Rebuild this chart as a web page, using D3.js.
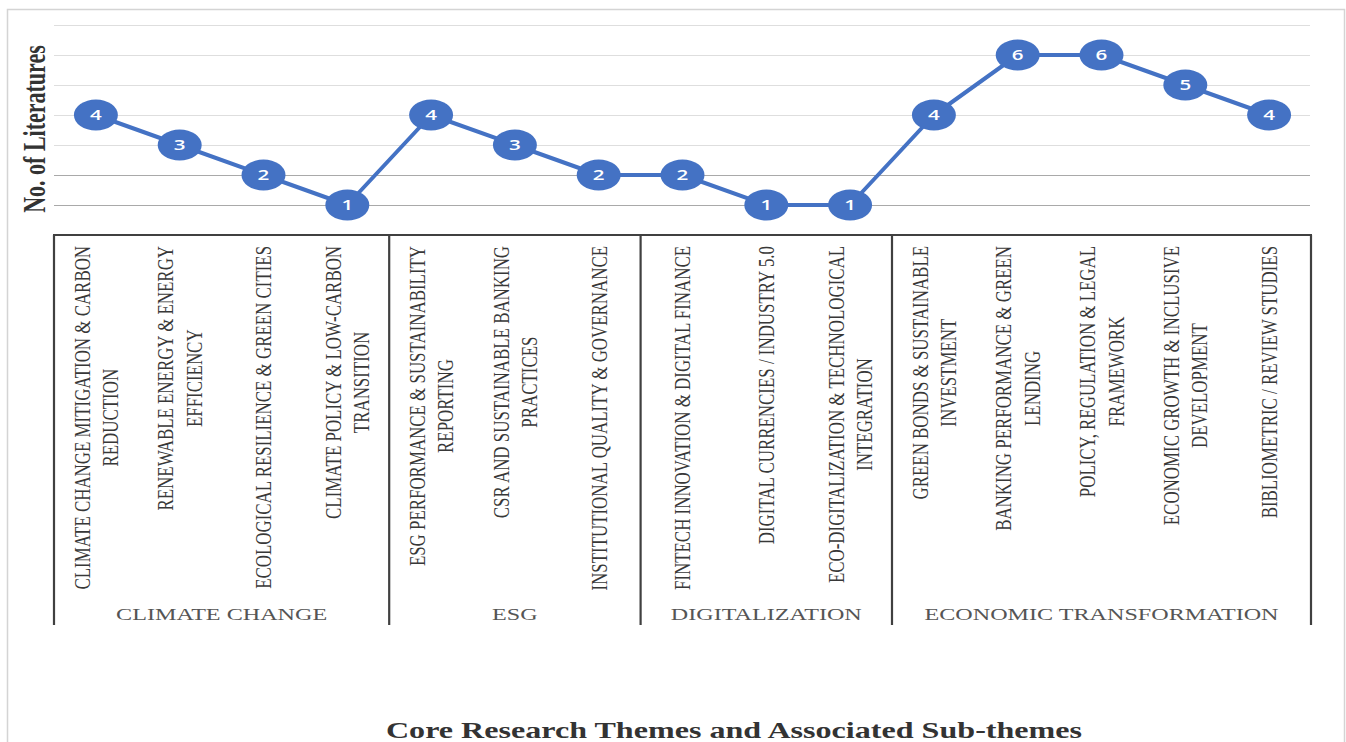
<!DOCTYPE html>
<html>
<head>
<meta charset="utf-8">
<script src="https://cdn.jsdelivr.net/npm/d3@7"></script>
<style>
  html, body { margin: 0; padding: 0; background: #ffffff; }
  svg { display: block; }
</style>
</head>
<body>
<svg id="chart" width="1346" height="742"></svg>
<script>
// Sub-themes (line breaks mark where each label wraps)
const subThemes = [
  "CLIMATE CHANGE MITIGATION & CARBON\nREDUCTION",
  "RENEWABLE ENERGY & ENERGY\nEFFICIENCY",
  "ECOLOGICAL RESILIENCE & GREEN CITIES",
  "CLIMATE POLICY & LOW-CARBON\nTRANSITION",
  "ESG PERFORMANCE & SUSTAINABILITY\nREPORTING",
  "CSR AND SUSTAINABLE BANKING\nPRACTICES",
  "INSTITUTIONAL QUALITY & GOVERNANCE",
  "FINTECH INNOVATION & DIGITAL FINANCE",
  "DIGITAL CURRENCIES / INDUSTRY 5.0",
  "ECO-DIGITALIZATION & TECHNOLOGICAL\nINTEGRATION",
  "GREEN BONDS & SUSTAINABLE\nINVESTMENT",
  "BANKING PERFORMANCE & GREEN\nLENDING",
  "POLICY, REGULATION & LEGAL\nFRAMEWORK",
  "ECONOMIC GROWTH & INCLUSIVE\nDEVELOPMENT",
  "BIBLIOMETRIC / REVIEW STUDIES"
];

// Number of literatures per sub-theme
const literatureCounts = [4, 3, 2, 1, 4, 3, 2, 2, 1, 1, 4, 6, 6, 5, 4];

// Core themes and how many sub-themes each one spans
const coreThemes = ["CLIMATE CHANGE", "ESG", "DIGITALIZATION", "ECONOMIC TRANSFORMATION"];
const coreThemeSizes = [4, 3, 3, 5];

// Value axis gridlines
const gridValues = [1, 2, 3, 4, 5, 6, 7];

const yAxisTitle = "No. of Literatures";
const xAxisTitle = "Core Research Themes and Associated Sub-themes";

const svg = d3.select("#chart");
const blue = "#4472c4";
const sx = 1.42; // horizontal stretch applied to the lettering

const plot = { left: 54, right: 1311, top: 25, base: 235, boxBottom: 625 };

const x = d3.scaleBand()
  .domain(d3.range(subThemes.length))
  .range([plot.left, plot.right])
  .paddingInner(0).paddingOuter(0);

const y = d3.scaleLinear()
  .domain([0, 7])
  .range([plot.base, plot.top]);

// Outer frame
svg.append("rect")
  .attr("x", 7.5).attr("y", 9.5)
  .attr("width", 1337).attr("height", 760)
  .attr("fill", "none")
  .attr("stroke", "#d4d4d4")
  .attr("stroke-width", 1.5);

// Gridlines
svg.append("g")
  .selectAll("line")
  .data(gridValues)
  .join("line")
  .attr("x1", plot.left).attr("x2", plot.right - 1)
  .attr("y1", d => Math.round(y(d)) + 0.5)
  .attr("y2", d => Math.round(y(d)) + 0.5)
  .attr("stroke", d => d <= 2 ? "#a9a9a9" : "#dedede")
  .attr("stroke-width", 1);

// Category box: top rule, group separators
const groupEdges = [0];
coreThemeSizes.forEach((n, i) => groupEdges.push(groupEdges[i] + n));

const edgeX = i => i < subThemes.length ? x(i) : x(subThemes.length - 1) + x.bandwidth();

svg.append("line")
  .attr("x1", plot.left - 1).attr("x2", plot.right + 1)
  .attr("y1", plot.base).attr("y2", plot.base)
  .attr("stroke", "#404040").attr("stroke-width", 2.2);

svg.append("g")
  .selectAll("line")
  .data(groupEdges)
  .join("line")
  .attr("x1", d => edgeX(d)).attr("x2", d => edgeX(d))
  .attr("y1", plot.base).attr("y2", plot.boxBottom)
  .attr("stroke", "#404040").attr("stroke-width", 2.2);

// Sub-theme labels, rotated, anchored just below the top rule
const labelFont = 16.9;
const lineGap = 20;
const labelG = svg.append("g")
  .attr("font-family", "'Liberation Serif', 'Times New Roman', serif")
  .attr("font-size", labelFont)
  .attr("fill", "#383838");

subThemes.forEach((label, i) => {
  const lines = label.split("\n");
  const cx = x(i) + x.bandwidth() / 2;
  const g = labelG.append("g");
  const t = g.append("text").attr("text-anchor", "middle");
  const n = lines.length;
  lines.forEach((ln, k) => {
    t.append("tspan")
      .attr("x", 0)
      .attr("y", (k - (n - 1) / 2) * lineGap + labelFont * 0.33)
      .text(ln);
  });
  // measure the longest line to align the block's upper end
  let maxLen = 0;
  t.selectAll("tspan").each(function () {
    maxLen = Math.max(maxLen, this.getComputedTextLength());
  });
  const cy = plot.base + 11 + maxLen / 2;
  g.attr("transform", `translate(${cx},${cy}) scale(${sx},1) rotate(-90)`);
});

// Core theme labels
const themeG = svg.append("g")
  .attr("font-family", "'Liberation Serif', 'Times New Roman', serif")
  .attr("font-size", 17)
  .attr("fill", "#555555");

coreThemes.forEach((name, i) => {
  const cx = (edgeX(groupEdges[i]) + edgeX(groupEdges[i + 1])) / 2;
  themeG.append("text")
    .attr("transform", `translate(${cx},620) scale(${sx},1)`)
    .attr("text-anchor", "middle")
    .text(name);
});

// Line
const line = d3.line()
  .x((d, i) => x(i) + x.bandwidth() / 2)
  .y(d => y(d));

svg.append("path")
  .datum(literatureCounts)
  .attr("d", line)
  .attr("fill", "none")
  .attr("stroke", blue)
  .attr("stroke-width", 4)
  .attr("stroke-linejoin", "round");

// Markers with value labels
const pts = svg.append("g")
  .selectAll("g")
  .data(literatureCounts)
  .join("g")
  .attr("transform", (d, i) => `translate(${x(i) + x.bandwidth() / 2},${y(d)})`);

pts.append("ellipse")
  .attr("rx", 22).attr("ry", 15.5)
  .attr("fill", blue);

pts.append("text")
  .attr("transform", `scale(${sx},1)`)
  .attr("text-anchor", "middle")
  .attr("dy", "0.36em")
  .attr("font-family", "'Open Sans', 'Liberation Sans', sans-serif")
  .attr("font-size", 14.5)
  .attr("font-weight", 600)
  .attr("fill", "#ffffff")
  .text(d => d);

// Axis titles
svg.append("text")
  .attr("transform", `translate(45,129) scale(${sx},1) rotate(-90)`)
  .attr("text-anchor", "middle")
  .attr("font-family", "'Liberation Serif', 'Times New Roman', serif")
  .attr("font-size", 22)
  .attr("font-weight", "bold")
  .attr("fill", "#333333")
  .text(yAxisTitle);

svg.append("text")
  .attr("transform", `translate(734,738) scale(${sx},1)`)
  .attr("text-anchor", "middle")
  .attr("font-family", "'Liberation Serif', 'Times New Roman', serif")
  .attr("font-size", 22.6)
  .attr("font-weight", "bold")
  .attr("fill", "#333333")
  .text(xAxisTitle);
</script>
</body>
</html>
